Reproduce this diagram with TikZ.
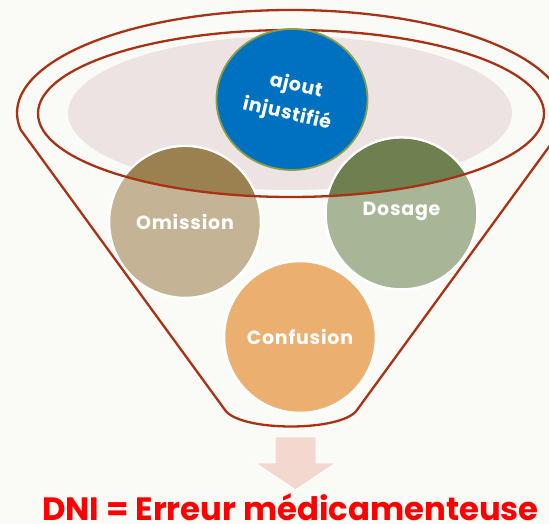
\documentclass[tikz,border=0pt]{standalone}
\usepackage{fontspec}
\setmainfont{Poppins}
\usetikzlibrary{shapes.geometric}
\definecolor{bgc}{RGB}{250,250,246}
\definecolor{funnelc}{RGB}{168,50,22}
\definecolor{pinkc}{RGB}{237,227,226}
\definecolor{bluec}{RGB}{0,112,192}
\definecolor{blueedge}{RGB}{138,158,72}
\definecolor{omlight}{RGB}{196,179,148}
\definecolor{omdark}{RGB}{155,128,80}
\definecolor{dolight}{RGB}{169,181,151}
\definecolor{dodark}{RGB}{110,128,80}
\definecolor{confc}{RGB}{235,175,112}
\definecolor{arrowc}{RGB}{242,216,206}
\definecolor{redtxt}{RGB}{255,0,0}
\tikzset{
  bubble/.style={circle, minimum size=152pt, inner sep=0pt, draw=white, line width=2.5pt},
  bubbletext/.style={text=white, font=\fontsize{19}{20}\selectfont\bfseries\addfontfeatures{LetterSpace=4}, align=center, inner sep=0pt},
  ajtext/.style={text=white, font=\fontsize{19}{20}\selectfont\bfseries\addfontfeatures{LetterSpace=3}, inner sep=0pt, rotate=-13},
  funnelline/.style={draw=funnelc, line width=2.3pt},
}
\begin{document}
\begin{tikzpicture}[x=1pt,y=1pt]
\useasboundingbox (0,0) rectangle (549,524);
\clip (0,0) rectangle (549,524);
\fill[bgc] (0,0) rectangle (549,524);
% pink inner surface
\node[ellipse, minimum width=444pt, minimum height=154pt, inner sep=0pt, fill=pinkc] (pink) at (290,411) {};
% bubbles
\node[bubble, fill=omlight] (om) at (185,302) {};
\node[bubble, fill=dolight] (do) at (401.5,310.5) {};
\node[bubble, fill=confc] (co) at (300,187) {};
\begin{scope}
  \clip (291,410.5) ellipse [x radius=253, y radius=83.5];
  \fill[omdark] (om.center) circle (74.8);
  \fill[dodark] (do.center) circle (74.8);
\end{scope}
\node[bubbletext] (omt) at (om.center) {Omission};
\node[bubbletext] (dot) at ([yshift=2pt]do.center) {Dosage};
\node[bubbletext] (cot) at (co.center) {Confusion};
% funnel
\draw[funnelline] (291,410.5) ellipse [x radius=253, y radius=83.5];
\draw[funnelline, line join=round] (20.8,394) arc[start angle=189.5, end angle=-9.5, x radius=274, y radius=103]
  -- (357,114) .. controls (342,92) and (240,92) .. (225,114) -- cycle;
% top bubble
\node[ellipse, minimum width=151pt, minimum height=141pt, inner sep=0pt, fill=bluec, draw=blueedge, line width=1.8pt] (aj) at (292,424.5) {};
\node[ajtext] (ajt1) at (296,437.5) {ajout};
\node[ajtext] (ajt2) at (287,410) {injustifié};
% arrow
\draw[white, line width=1pt, fill=arrowc, line join=miter] (275,87) -- (316,87) -- (316,61) -- (336,61) -- (295.5,34) -- (255,61) -- (275,61) -- cycle;
% bottom text
\node[anchor=base west, inner sep=0pt, text=redtxt, font=\fontsize{32.3}{34}\selectfont\bfseries] (dni) at (42,3.5) {DNI = Erreur médicamenteuse};
\end{tikzpicture}
\end{document}
